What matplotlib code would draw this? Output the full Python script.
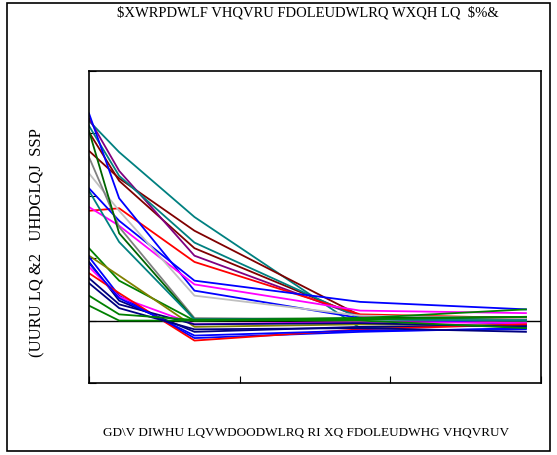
import matplotlib
matplotlib.use("Agg")
import matplotlib.pyplot as plt
from matplotlib.patches import Rectangle

# days at which each sensor error was sampled
days = [0, 2, 7, 18, 29]

# error in CO reading (ppm) per sensor
sensors = [
    ("#008080", [16.0, 13.5, 8.3, -0.6, -0.3]),
    ("#800000", [13.6, 11.4, 7.2, 0.4, 0.1]),
    ("#800000", [15.1, 11.2, 5.8, 0.3, 0.0]),
    ("#800080", [16.2, 12.0, 5.2, 0.3, -0.2]),
    ("#008080", [15.6, 11.6, 6.25, 0.2, 0.1]),
    ("#FF0000", [8.8, 9.0, 4.7, 0.5, 0.2]),
    ("#0000FF", [16.6, 9.8, 2.4, 0.2, -0.3]),
    ("#0000FF", [10.6, 8.0, 3.2, 1.5, 0.9]),
    ("#FF00FF", [9.1, 7.6, 2.9, 0.8, 0.6]),
    ("#C0C0C0", [11.8, 8.8, 2.0, 0.4, 0.2]),
    ("#808080", [13.1, 7.5, 0.2, 0.1, 0.0]),
    ("#006400", [15.2, 7.0, 0.1, 0.2, 0.3]),
    ("#008080", [10.4, 6.3, 0.1, 0.1, 0.0]),
    ("#008000", [5.8, 3.2, 0.0, 0.2, 0.9]),
    ("#808000", [5.2, 3.6, -0.5, -0.3, -0.4]),
    ("#0000FF", [5.1, 2.0, -1.4, -0.9, -0.6]),
    ("#000080", [4.7, 1.6, -0.9, -0.5, -0.4]),
    ("#FF00FF", [4.3, 1.9, -0.3, -0.1, -0.2]),
    ("#FF0000", [3.8, 2.2, -1.6, -0.7, -0.3]),
    ("#000080", [3.4, 1.3, -0.3, -0.2, -0.5]),
    ("#008000", [1.2, 0.0, 0.0, 0.1, 0.3]),
    ("#0000FF", [4.6, 1.8, -1.2, -0.8, -0.7]),
    ("#000080", [3.0, 1.0, -0.7, -0.6, -0.9]),
    ("#008000", [2.0, 0.5, 0.05, 0.0, -0.6]),
]

x_ticks = [0, 10, 20, 30]
y_ticks = [-5, 0, 5, 10, 15, 20]

title = "\\$XWRPDWLF VHQVRU FDOLEUDWLRQ WXQH LQ  \\$%&"
xlabel = "GD\\V DIWHU LQVWDOODWLRQ RI XQ FDOLEUDWHG VHQVRUV"
ylabel = "(UURU LQ &2   UHDGLQJ  SSP"

plt.rcParams['font.family'] = ['Liberation Serif', 'DejaVu Serif']

fig = plt.figure(figsize=(5.57, 4.56), dpi=100)
ax = fig.add_axes([0.1598, 0.1579, 0.8115, 0.6842])

for color, vals in sensors:
    ax.plot(days, vals, color=color, linewidth=1.3)

ax.axhline(0, color='black', linewidth=1.0, zorder=0)

ax.set_xlim(0, 30)
ax.set_ylim(-5, 20)
ax.set_xticks(x_ticks)
ax.set_yticks(y_ticks)
ax.tick_params(direction='in', length=5, labelbottom=False, labelleft=False,
               top=False, right=False)
for sp in ax.spines.values():
    sp.set_linewidth(1.2)

fig.text(0.553, 0.971, title, ha='center', va='center', fontsize=10.5)
fig.text(0.55, 0.05, xlabel, ha='center', va='center', fontsize=9.5)
fig.text(0.068, 0.467, ylabel, ha='center', va='center', fontsize=12, rotation=90)

fig.patches.append(Rectangle((0.0126, 0.0088), 0.975, 0.982, transform=fig.transFigure,
                             fill=False, edgecolor='black', linewidth=1.2))

fig.savefig("out.png", dpi=100)
